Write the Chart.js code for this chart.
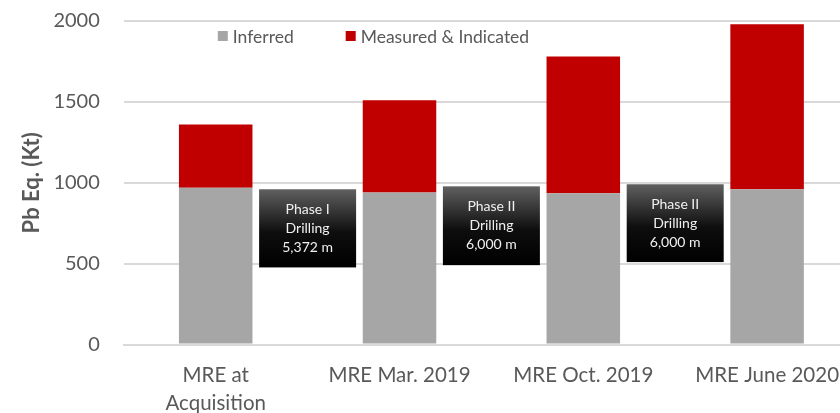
<!DOCTYPE html>
<html>
<head>
<meta charset="utf-8">
<script src="https://cdn.jsdelivr.net/npm/chart.js@4.4.1/dist/chart.umd.min.js"></script>
<style>
  html, body { margin: 0; padding: 0; background: #fff; overflow: hidden; }
  #wrap { position: relative; width: 871px; height: 426px; }
</style>
</head>
<body>
<div id="wrap"><canvas id="resChart"></canvas></div>
<script>
// values (Kt Pb Eq.)
const categories = [['MRE at', 'Acquisition'], 'MRE Mar. 2019', 'MRE Oct. 2019', 'MRE June 2020'];
const inferred = [970, 940, 935, 960];
const measuredIndicated = [390, 570, 845, 1020];
const yTicks = [0, 500, 1000, 1500, 2000];

// drilling call-outs between the bars
const drillingNotes = [
  ['Phase I', 'Drilling', '5,372 m'],
  ['Phase II', 'Drilling', '6,000 m'],
  ['Phase II', 'Drilling', '6,000 m']
];
const noteTop = [960, 978, 991];
const noteBottom = [477, 491, 510];

const grey = '#595959';

// legend sits inside the plot, drawn by hand
const insideLegend = {
  id: 'insideLegend',
  afterDraw(chart) {
    const ctx = chart.ctx;
    const area = chart.chartArea;
    let x = area.left + 94;
    const y = area.top + 15;
    ctx.save();
    ctx.font = '17.5px Lato';
    ctx.textBaseline = 'middle';
    chart.data.datasets.forEach(ds => {
      ctx.fillStyle = ds.backgroundColor;
      ctx.fillRect(x, y - 5, 10, 10);
      ctx.fillStyle = grey;
      ctx.fillText(ds.label, x + 15, y + 1);
      x += 15 + ctx.measureText(ds.label).width + 52;
    });
    ctx.restore();
  }
};

const drillBoxes = {
  id: 'drillBoxes',
  afterDatasetsDraw(chart) {
    const ctx = chart.ctx;
    const xs = chart.scales.x, ys = chart.scales.y;
    ctx.save();
    drillingNotes.forEach((lines, i) => {
      const cx = (xs.getPixelForValue(i) + xs.getPixelForValue(i + 1)) / 2;
      const top = ys.getPixelForValue(noteTop[i]);
      const bottom = ys.getPixelForValue(noteBottom[i]);
      const w = 97;
      const g = ctx.createLinearGradient(0, top, 0, bottom);
      g.addColorStop(0, '#606060');
      g.addColorStop(0.55, '#0e0e0e');
      g.addColorStop(1, '#000000');
      ctx.fillStyle = g;
      ctx.fillRect(cx - w / 2, top, w, bottom - top);
      ctx.fillStyle = '#f0f0f0';
      ctx.font = '14px Lato';
      ctx.textAlign = 'center';
      ctx.textBaseline = 'middle';
      const mid = (top + bottom) / 2;
      lines.forEach((t, k) => ctx.fillText(t, cx, mid + (k - 1) * 19));
    });
    ctx.restore();
  }
};

const ctx = document.getElementById('resChart').getContext('2d');
new Chart(ctx, {
  type: 'bar',
  data: {
    labels: categories,
    datasets: [
      { label: 'Inferred', data: inferred, backgroundColor: '#a6a6a6' },
      { label: 'Measured & Indicated', data: measuredIndicated, backgroundColor: '#c00000' }
    ]
  },
  options: {
    responsive: true,
    maintainAspectRatio: false,
    animation: false,
    barPercentage: 0.4,
    categoryPercentage: 1,
    layout: { padding: { top: 21, right: 12, left: 14, bottom: 0 } },
    plugins: {
      legend: { display: false },
      tooltip: { enabled: false }
    },
    scales: {
      x: {
        stacked: true,
        grid: { display: false },
        border: { color: '#d9d9d9', width: 2 },
        ticks: { color: grey, font: { family: 'Lato', size: 20.5, lineHeight: 1.4 }, padding: 8, maxRotation: 0, autoSkip: false }
      },
      y: {
        stacked: true,
        min: yTicks[0],
        max: yTicks[yTicks.length - 1],
        afterBuildTicks: axis => { axis.ticks = yTicks.map(v => ({ value: v })); },
        grid: { color: '#d9d9d9', lineWidth: 2, drawTicks: true, tickLength: 24, tickColor: 'rgba(0,0,0,0)' },
        border: { display: false },
        ticks: { color: grey, font: { family: 'Lato', size: 20 }, padding: 0, callback: v => String(v) },
        title: { display: true, text: 'Pb Eq. (Kt)', color: grey, font: { family: 'Lato', size: 22, weight: 'bold' }, padding: { top: 5, bottom: 8 } }
      }
    }
  },
  plugins: [insideLegend, drillBoxes]
});
</script>
</body>
</html>
